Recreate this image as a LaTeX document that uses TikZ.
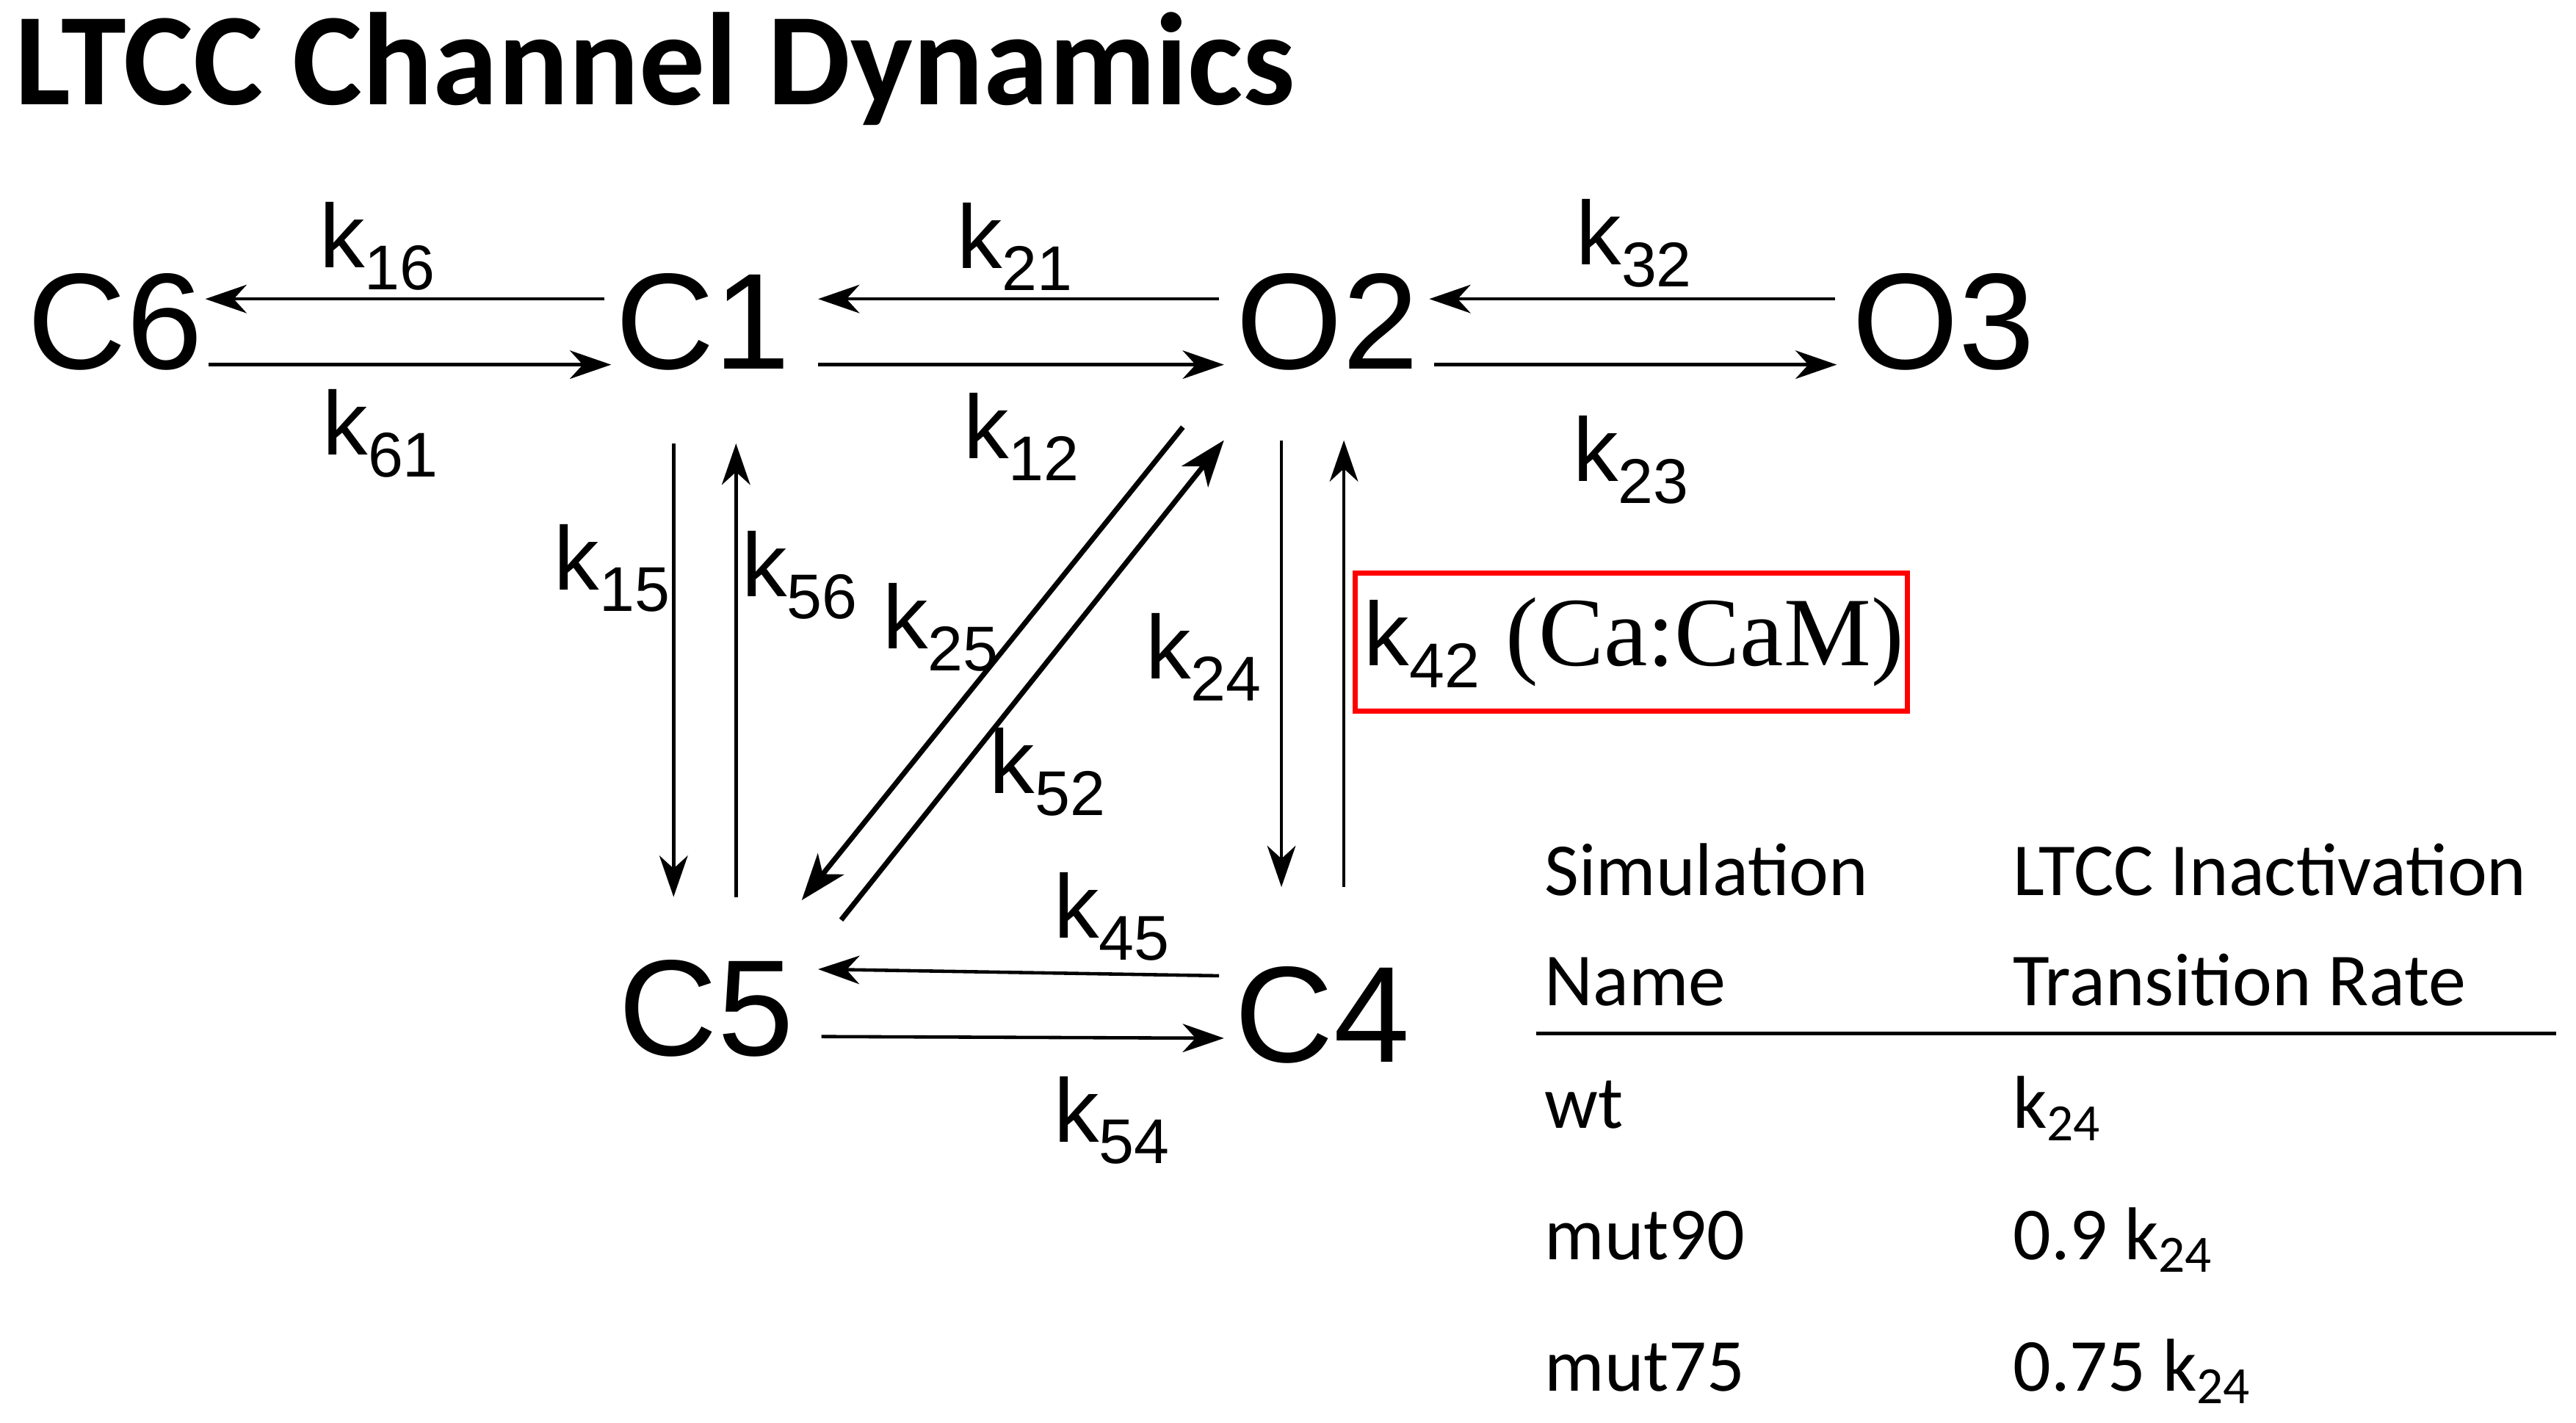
\documentclass[tikz,border=0pt]{standalone}
\usepackage{fontspec}
\setmainfont{Liberation Sans}
\newfontfamily\calib{Carlito}
\newfontfamily\tms{Liberation Serif}
\usetikzlibrary{arrows.meta,calc}
\newcommand{\ksub}[1]{\textsubscript{#1}}
\tikzset{
  state/.style={inner sep=0pt,font=\fontsize{53}{60}\selectfont},
  rate/.style={inner sep=0pt,font=\fontsize{35}{40}\selectfont},
  arr/.style={line width=1.3pt,-{Stealth[length=16pt,width=11pt,inset=5pt]}},
  darr/.style={line width=2pt,-{Stealth[length=18pt,width=13pt,inset=5pt]}},
  tab/.style={inner sep=0pt,anchor=base west,font=\calib\fontsize{29}{32}\selectfont}
}
\begin{document}
\begin{tikzpicture}[x=0.02237cm,y=-0.02237cm]
\useasboundingbox (0,0) rectangle (1568,866);

% Title
\node[inner sep=0pt,anchor=west,font=\calib\bfseries\fontsize{51}{60}\selectfont] (title) at (9,42) {LTCC Channel Dynamics};

% States
\node[state] (C6) at (70,196) {C6};
\node[state] (C1) at (428,196) {C1};
\node[state] (O2) at (808,196) {O2};
\node[state] (O3) at (1183,196) {O3};
\node[state] (C5) at (430,614) {C5};
\node[state] (C4) at (805,618) {C4};

% Horizontal transitions
\draw[arr] ($(C1)+(-60,-14)$) -- ($(C6)+(55,-14)$);
\draw[arr] ($(C6)+(57,26)$) -- ($(C1)+(-56,26)$);
\draw[arr] ($(O2)+(-66,-14)$) -- ($(C1)+(70,-14)$);
\draw[arr] ($(C1)+(70,26)$) -- ($(O2)+(-63,26)$);
\draw[arr] ($(O3)+(-66,-14)$) -- ($(O2)+(62,-14)$);
\draw[arr] ($(O2)+(65,26)$) -- ($(O3)+(-65,26)$);
\draw[arr] ($(C4)+(-63,-24)$) -- ($(C5)+(68,-24)$);
\draw[arr] ($(C5)+(70,17)$) -- ($(C4)+(-60,14)$);

% Vertical transitions
\draw[arr] ($(C1)+(-18,74)$) -- ($(C5)+(-20,-68)$);
\draw[arr] ($(C5)+(18,-68)$) -- ($(C1)+(20,74)$);
\draw[arr] ($(O2)+(-28,72)$) -- ($(C4)+(-25,-78)$);
\draw[arr] ($(C4)+(13,-78)$) -- ($(O2)+(10,72)$);

% Diagonal transitions
\draw[darr] ($(O2)+(-88,64)$) -- ($(C5)+(58,-66)$);
\draw[darr] ($(C5)+(82,-54)$) -- ($(O2)+(-63,72)$);

% Rate labels
\node[rate] (k16) at (230,150) {k\ksub{16}};
\node[rate] (k61) at (232,264) {k\ksub{61}};
\node[rate] (k21) at (618,150) {k\ksub{21}};
\node[rate] (k12) at (622,266) {k\ksub{12}};
\node[rate] (k32) at (995,148) {k\ksub{32}};
\node[rate] (k23) at (993,280) {k\ksub{23}};
\node[rate] (k15) at (373,346) {k\ksub{15}};
\node[rate] (k56) at (487,350) {k\ksub{56}};
\node[rate] (k25) at (573,382) {k\ksub{25}};
\node[rate] (k52) at (638,470) {k\ksub{52}};
\node[rate] (k24) at (733,400) {k\ksub{24}};
\node[rate] (k45) at (677,558) {k\ksub{45}};
\node[rate] (k54) at (677,682) {k\ksub{54}};
\node[draw=red,line width=2pt,minimum width=7.52cm,minimum height=1.88cm,inner sep=0pt] (k42) at (993,391) {};
\node[rate,anchor=west] (k42t) at (830,391) {k\ksub{42} {\tms\fontsize{38}{40}\selectfont(Ca:CaM)}};

% Table
\node[tab] (h1a) at (940,545) {Simulation};
\node[tab] (h1b) at (940,612) {Name};
\node[tab] (h2a) at (1225,545) {LTCC Inactivation};
\node[tab] (h2b) at (1225,612) {Transition Rate};
\coordinate (rl) at (935,629);
\coordinate (rr) at (1556,629);
\draw[line width=1.5pt] (rl) -- (rr);
\node[tab] (r1a) at (940,687) {wt};
\node[tab] (r1b) at (1225,687) {k\ksub{24}};
\node[tab] (r2a) at (940,767) {mut90};
\node[tab] (r2b) at (1225,767) {0.9 k\ksub{24}};
\node[tab] (r3a) at (940,847) {mut75};
\node[tab] (r3b) at (1225,847) {0.75 k\ksub{24}};
\end{tikzpicture}
\end{document}
